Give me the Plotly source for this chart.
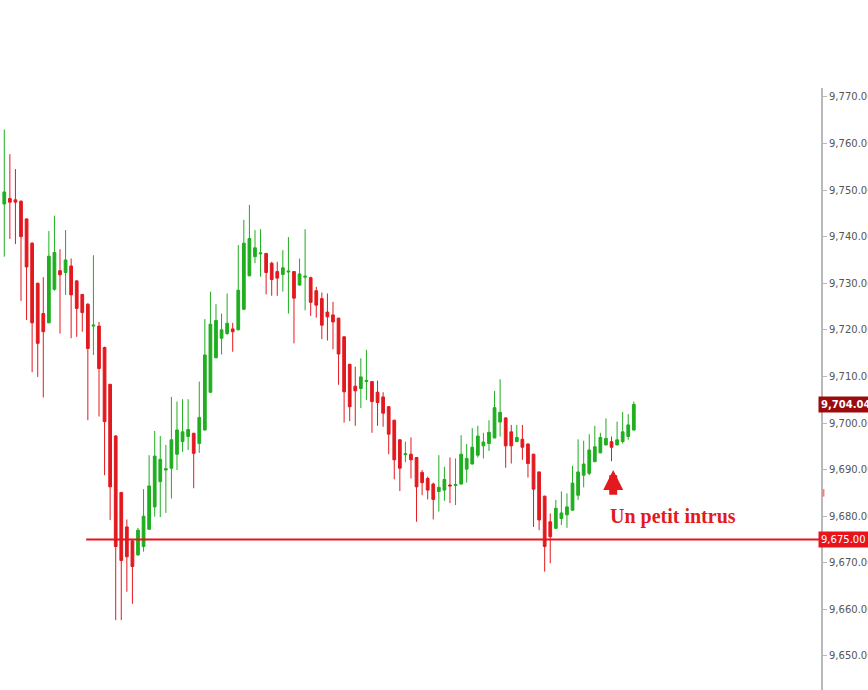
import plotly.graph_objects as go

# candle data (one candle per bar, left to right)
opens = [9747.0, 9748.2, 9747.9, 9747.6, 9743.8, 9738.6, 9730.0, 9723.5, 9721.5, 9728.7,
         9732.7, 9732.3, 9733.7, 9730.5, 9727.6, 9725.5, 9720.8, 9720.8, 9716.2, 9708.3,
         9697.2, 9685.1, 9677.7, 9674.7, 9671.7, 9673.5, 9677.2, 9682.0, 9687.4, 9689.9,
         9690.3, 9693.3, 9696.0, 9697.1, 9697.8, 9695.6, 9698.5, 9706.6, 9714.0, 9718.2,
         9719.2, 9720.2, 9720.0, 9724.4, 9731.6, 9735.7, 9736.3, 9736.4, 9734.3, 9732.5,
         9731.9, 9732.4, 9732.5, 9729.6, 9731.3, 9731.2, 9728.4, 9726.7, 9723.8, 9723.2,
         9722.5, 9718.5, 9712.6, 9707.9, 9707.4, 9708.9, 9708.9, 9706.6, 9705.6, 9703.5,
         9700.6, 9696.4, 9693.2, 9693.3, 9692.6, 9689.4, 9688.1, 9686.9, 9685.3, 9685.6,
         9686.7, 9686.6, 9686.9, 9690.1, 9691.2, 9693.1, 9695.1, 9695.6, 9696.8, 9700.2,
         9701.1, 9698.1, 9696.0, 9696.5, 9695.5, 9693.3, 9689.5, 9684.3, 9678.8, 9677.4,
         9679.5, 9680.3, 9681.3, 9684.5, 9688.8, 9689.2, 9691.7, 9693.6, 9695.3, 9696.0,
         9695.3, 9696.0, 9697.1, 9698.5]
highs = [9763.0, 9757.7, 9754.5, 9747.8, 9743.9, 9738.8, 9730.1, 9731.3, 9741.2, 9744.5,
         9737.3, 9741.4, 9735.3, 9730.7, 9727.7, 9725.7, 9736.0, 9721.7, 9716.4, 9708.4,
         9697.4, 9685.2, 9679.3, 9674.9, 9677.5, 9685.8, 9693.1, 9698.3, 9697.2, 9695.3,
         9705.6, 9704.6, 9705.1, 9705.1, 9697.9, 9708.9, 9722.3, 9728.2, 9725.5, 9723.5,
         9727.8, 9721.5, 9738.2, 9743.6, 9746.8, 9741.4, 9741.6, 9736.5, 9734.6, 9734.6,
         9737.1, 9739.9, 9732.6, 9735.3, 9741.6, 9731.4, 9729.2, 9728.0, 9727.8, 9726.0,
         9722.6, 9718.6, 9712.7, 9712.1, 9713.9, 9715.7, 9709.0, 9709.1, 9706.6, 9703.6,
         9700.7, 9696.5, 9696.0, 9696.9, 9692.7, 9689.9, 9688.5, 9687.2, 9693.1, 9690.6,
         9692.6, 9692.4, 9697.4, 9695.5, 9698.9, 9699.4, 9697.9, 9700.6, 9706.9, 9709.4,
         9701.2, 9699.6, 9699.6, 9699.6, 9695.6, 9693.4, 9689.6, 9684.4, 9680.6, 9683.5,
         9685.3, 9684.9, 9690.8, 9696.5, 9696.2, 9697.6, 9699.4, 9697.9, 9701.0, 9697.1,
         9700.3, 9702.4, 9701.9, 9704.6]
lows = [9735.7, 9739.5, 9738.4, 9726.2, 9722.1, 9710.9, 9709.9, 9705.5, 9721.4, 9728.4,
        9719.2, 9727.5, 9718.2, 9718.5, 9719.6, 9700.6, 9714.6, 9701.4, 9688.8, 9679.2,
        9657.7, 9657.7, 9663.8, 9661.2, 9671.5, 9672.4, 9677.1, 9679.9, 9679.8, 9680.7,
        9683.8, 9689.9, 9693.8, 9694.2, 9686.0, 9693.6, 9698.4, 9706.5, 9713.9, 9714.7,
        9718.9, 9715.3, 9719.9, 9724.3, 9731.5, 9734.3, 9731.4, 9727.6, 9727.3, 9727.3,
        9728.2, 9723.5, 9717.1, 9729.5, 9724.2, 9723.0, 9722.6, 9718.0, 9717.7, 9715.8,
        9708.2, 9700.1, 9700.4, 9699.4, 9703.2, 9704.9, 9697.9, 9699.4, 9699.2, 9693.3,
        9687.9, 9685.4, 9691.6, 9688.1, 9678.8, 9684.5, 9683.6, 9679.3, 9681.0, 9683.3,
        9682.8, 9682.4, 9686.8, 9687.2, 9691.1, 9692.6, 9692.4, 9694.0, 9696.7, 9697.1,
        9690.4, 9691.3, 9695.9, 9692.1, 9688.3, 9677.7, 9677.0, 9668.1, 9669.9, 9677.3,
        9678.1, 9677.5, 9681.2, 9683.5, 9686.2, 9688.8, 9691.6, 9693.5, 9695.2, 9691.8,
        9695.2, 9695.6, 9696.4, 9698.4]
closes = [9749.6, 9747.4, 9747.4, 9740.0, 9733.5, 9721.5, 9717.1, 9719.6, 9735.8, 9736.6,
          9731.8, 9735.0, 9727.5, 9724.6, 9723.7, 9716.0, 9721.0, 9711.7, 9700.3, 9686.3,
          9673.5, 9670.5, 9671.3, 9669.2, 9677.0, 9680.0, 9686.5, 9692.9, 9692.2, 9690.2,
          9696.4, 9698.5, 9698.1, 9698.6, 9693.5, 9701.2, 9714.6, 9721.2, 9722.0, 9720.0,
          9721.4, 9719.6, 9728.5, 9738.6, 9739.6, 9737.6, 9736.5, 9732.3, 9730.8, 9731.1,
          9733.3, 9732.6, 9726.8, 9732.0, 9731.5, 9725.9, 9725.3, 9721.0, 9722.8, 9721.7,
          9714.8, 9706.7, 9703.5, 9706.9, 9709.9, 9709.1, 9704.6, 9704.4, 9702.1, 9697.6,
          9692.1, 9690.3, 9693.4, 9692.1, 9686.3, 9687.2, 9685.6, 9683.6, 9686.2, 9687.9,
          9686.5, 9686.8, 9693.3, 9692.4, 9694.8, 9697.2, 9695.9, 9698.0, 9703.3, 9702.3,
          9695.1, 9695.1, 9696.9, 9694.8, 9691.3, 9685.8, 9679.2, 9673.5, 9675.6, 9681.7,
          9680.7, 9682.0, 9687.1, 9689.5, 9691.2, 9694.2, 9694.9, 9696.9, 9696.7, 9694.8,
          9696.4, 9698.1, 9699.6, 9704.0]
bars = list(range(len(opens)))

support_level = 9675.00
support_start = 14.7      # bar index where the drawn support line begins
last_price = 9704.04
intruder_bar = 109        # the lone red candle in the final climb
intruder_tip = 9689.9
intruder_tail = 9684.3
label_text = "Un petit intrus"
axis_marker = 9685.0      # small red blip sitting on the price axis

GREEN = "#1fae1f"
RED = "#e3191f"

fig = go.Figure()

fig.add_trace(go.Candlestick(
    x=bars, open=opens, high=highs, low=lows, close=closes,
    increasing=dict(line=dict(color=GREEN, width=1), fillcolor=GREEN),
    decreasing=dict(line=dict(color=RED, width=1), fillcolor=RED),
    whiskerwidth=0,
    showlegend=False,
))

# support line at 9,675
fig.add_shape(type="line", xref="x", yref="y",
              x0=support_start, x1=146.6, y0=support_level, y1=support_level,
              line=dict(color="#e8141c", width=2))

# tiny red mark on the axis
fig.add_shape(type="line", xref="paper", yref="y", x0=1.003, x1=1.003,
              y0=axis_marker - 0.8, y1=axis_marker + 0.8,
              line=dict(color="#f08080", width=2))

# price tags on the right axis
fig.add_annotation(xref="paper", yref="y", x=1, y=support_level, xanchor="left",
                   xshift=-3, showarrow=False, text=f"{support_level:,.2f}",
                   font=dict(family="DejaVu Sans", size=10, color="white"),
                   bgcolor="#e8141c", borderpad=2)
fig.add_annotation(xref="paper", yref="y", x=1, y=last_price, xanchor="left",
                   xshift=-3, showarrow=False, text=f"<b>{last_price:,.2f}</b>",
                   font=dict(family="DejaVu Sans", size=10, color="white"),
                   bgcolor="#9b0b0b", borderpad=2)

# arrow + caption for the intruder
fig.add_annotation(xref="x", yref="y", x=intruder_bar + 0.3, y=intruder_tip,
                   axref="x", ayref="y", ax=intruder_bar + 0.3, ay=intruder_tail,
                   text="", showarrow=True, arrowhead=2, arrowsize=0.5,
                   arrowwidth=8, arrowcolor=RED)
fig.add_annotation(xref="x", yref="y", x=intruder_bar - 0.7, y=9680.0,
                   xanchor="left", showarrow=False, text=f"<b>{label_text}</b>",
                   font=dict(family="Liberation Serif", size=20, color=RED))

fig.update_layout(
    width=868, height=690,
    margin=dict(l=0, r=47, t=88, b=0),
    paper_bgcolor="white", plot_bgcolor="white",
    template="none",
    showlegend=False,
)
fig.update_xaxes(visible=False, range=[-0.77, 146.6], rangeslider=dict(visible=False))
fig.update_yaxes(
    side="right", range=[9642.7, 9771.9], dtick=10, tickformat=",.2f",
    showgrid=False, zeroline=False, showline=True, linecolor="#b8b8b8", linewidth=2,
    ticks="outside", ticklen=4, tickcolor="#b8b8b8", automargin=False,
    tickfont=dict(family="DejaVu Sans", size=10, color="#555555"),
)

# drop the browser's default body margin so the chart sits at the page corner
fig.write_html("out.html", config={"displayModeBar": False},
               post_script="document.body.style.margin='0';")
